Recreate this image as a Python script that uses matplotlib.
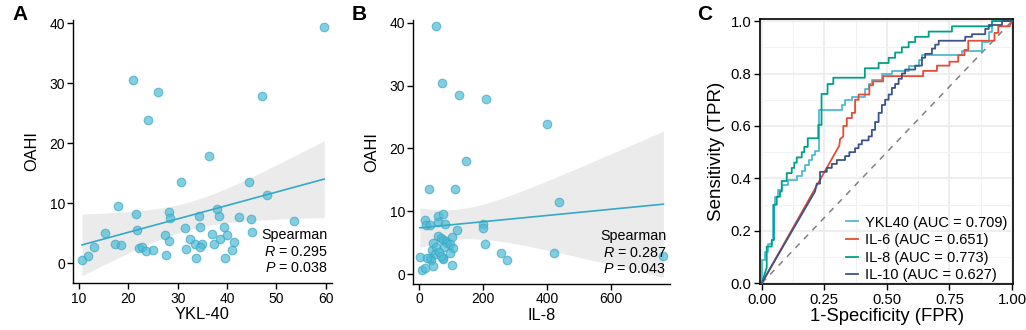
import numpy as np
import matplotlib
matplotlib.use("Agg")
import matplotlib.pyplot as plt

plt.rcParams['font.family'] = ['Liberation Sans', 'DejaVu Sans']
plt.rcParams['mathtext.fontset'] = 'custom'
plt.rcParams['mathtext.it'] = 'Liberation Sans:italic'
plt.rcParams['mathtext.rm'] = 'Liberation Sans'

# panel A: YKL-40 vs OAHI
ykl40 = [59.7, 20.9, 26.1, 47.0, 23.9, 36.4, 30.7, 44.4, 48.1, 18.0,
         21.5, 28.3, 28.5, 38.0, 34.3, 38.3, 42.5, 44.9, 53.6, 21.7,
         15.3, 31.4, 34.5, 39.4, 27.4, 28.3, 37.0, 40.0, 45.1, 17.2,
         18.5, 13.0, 32.4, 38.5, 41.4, 33.5, 34.9, 37.4, 34.6, 31.6,
         22.2, 22.7, 23.5, 25.0, 41.1, 27.6, 33.7, 39.5, 11.9, 10.6]
oahi_a = [39.4, 30.5, 28.5, 27.9, 23.9, 17.9, 13.5, 13.5, 11.4, 9.5,
          8.3, 8.5, 7.6, 9.1, 7.9, 7.9, 7.8, 7.4, 7.0, 5.6,
          5.0, 5.9, 6.0, 6.0, 4.8, 3.7, 4.9, 4.7, 5.3, 3.2,
          3.0, 2.7, 4.1, 4.1, 3.5, 3.3, 3.3, 3.3, 2.8, 2.4,
          2.6, 2.8, 2.1, 2.3, 2.3, 1.4, 0.9, 0.9, 1.2, 0.6]

# panel B: IL-8 vs OAHI
il8 = [53, 72, 124, 209, 400, 147, 30, 114, 439, 20,
       21, 34, 60, 76, 60, 80, 120, 200, 201, 59,
       68, 74, 84, 87, 102, 45, 41, 53, 50, 34,
       38, 77, 64, 74, 76, 96, 105, 98, 104, 3,
       24, 45, 8, 19, 207, 258, 276, 422, 765, 70]
oahi_b = [39.5, 30.5, 28.5, 27.9, 23.9, 18.0, 13.5, 13.6, 11.4, 8.6,
          7.8, 7.8, 9.2, 9.5, 8.3, 8.0, 7.0, 8.0, 7.4, 6.0,
          5.8, 5.4, 5.3, 4.9, 5.9, 5.0, 3.8, 4.3, 3.2, 2.5,
          2.2, 4.3, 3.5, 2.6, 2.4, 4.8, 4.1, 3.3, 1.5, 2.7,
          2.5, 1.2, 0.6, 1.0, 4.8, 3.3, 2.3, 3.3, 2.9, 2.8]

# panel C: ROC curves (FPR, TPR vertices)
ykl40_fpr = [0, 0, 0.013, 0.013, 0.027, 0.027, 0.04, 0.04, 0.047, 0.047, 0.053, 0.053, 0.067, 0.067,
             0.08, 0.08, 0.107, 0.107, 0.14, 0.14, 0.16, 0.16, 0.173, 0.173, 0.187, 0.187, 0.2, 0.2,
             0.213, 0.213, 0.227, 0.227, 0.32, 0.32, 0.333, 0.333, 0.36, 0.36, 0.413, 0.413, 0.427, 0.427,
             0.44, 0.44, 0.48, 0.48, 0.52, 0.52, 0.587, 0.587, 0.627, 0.627, 0.64, 0.64, 0.8, 0.8,
             0.88, 0.88, 0.907, 0.907, 0.92, 0.92, 1.0]
ykl40_tpr = [0, 0.09, 0.09, 0.12, 0.12, 0.15, 0.15, 0.165, 0.165, 0.30, 0.30, 0.33, 0.33, 0.355,
             0.355, 0.375, 0.375, 0.395, 0.395, 0.41, 0.41, 0.43, 0.43, 0.45, 0.45, 0.47, 0.47, 0.49,
             0.49, 0.505, 0.505, 0.66, 0.66, 0.68, 0.68, 0.70, 0.70, 0.71, 0.71, 0.74, 0.74, 0.76,
             0.76, 0.775, 0.775, 0.80, 0.80, 0.81, 0.81, 0.83, 0.83, 0.85, 0.85, 0.87, 0.87, 0.885,
             0.885, 0.92, 0.92, 0.96, 0.96, 1.0, 1.0]

il6_fpr = [0, 0.31, 0.313, 0.326, 0.326, 0.34, 0.34, 0.36, 0.36, 0.373, 0.373, 0.387, 0.387,
           0.43, 0.43, 0.445, 0.445, 0.485, 0.485, 0.645, 0.645, 0.70, 0.70, 0.75, 0.75, 0.785, 0.785,
           0.81, 0.81, 0.825, 0.825, 0.93, 0.93, 0.945, 0.945, 0.99, 1.0]
il6_tpr = [0, 0.525, 0.55, 0.56, 0.60, 0.60, 0.63, 0.63, 0.65, 0.65, 0.70, 0.70, 0.72,
           0.72, 0.755, 0.755, 0.77, 0.77, 0.79, 0.79, 0.81, 0.81, 0.83, 0.83, 0.845, 0.845, 0.87,
           0.87, 0.89, 0.89, 0.925, 0.925, 0.955, 0.955, 0.98, 0.98, 1.0]

il8_fpr = [0, 0.02, 0.02, 0.04, 0.04, 0.049, 0.049, 0.06, 0.06, 0.073, 0.073, 0.08, 0.08, 0.10, 0.10,
           0.12, 0.12, 0.13, 0.13, 0.14, 0.14, 0.16, 0.16, 0.17, 0.17, 0.184, 0.184, 0.226, 0.226,
           0.239, 0.239, 0.263, 0.263, 0.286, 0.286, 0.412, 0.412, 0.467, 0.467, 0.507, 0.507, 0.533,
           0.533, 0.56, 0.56, 0.587, 0.587, 0.613, 0.613, 0.667, 0.667, 0.76, 0.76, 0.92, 0.92, 1.0]
il8_tpr = [0, 0.06, 0.14, 0.14, 0.165, 0.165, 0.30, 0.30, 0.33, 0.33, 0.35, 0.35, 0.39, 0.39, 0.42,
           0.42, 0.44, 0.44, 0.46, 0.46, 0.48, 0.48, 0.50, 0.50, 0.52, 0.52, 0.553, 0.553, 0.604,
           0.604, 0.722, 0.722, 0.76, 0.76, 0.784, 0.784, 0.82, 0.82, 0.84, 0.84, 0.86, 0.86,
           0.88, 0.88, 0.90, 0.90, 0.92, 0.92, 0.94, 0.94, 0.96, 0.96, 0.98, 0.98, 1.0, 1.0]

il10_fpr = [0, 0.213, 0.22, 0.233, 0.233, 0.26, 0.26, 0.28, 0.28, 0.30, 0.30, 0.333, 0.333, 0.35, 0.35,
            0.373, 0.373, 0.387, 0.387, 0.40, 0.40, 0.427, 0.427, 0.44, 0.44, 0.453, 0.453, 0.467, 0.467,
            0.48, 0.48, 0.493, 0.493, 0.507, 0.507, 0.52, 0.52, 0.533, 0.533, 0.547, 0.547, 0.56, 0.56,
            0.573, 0.573, 0.613, 0.613, 0.64, 0.64, 0.653, 0.653, 0.68, 0.68, 0.693, 0.693, 0.707, 0.707,
            0.813, 0.813, 0.84, 0.84, 0.893, 0.893, 0.907, 0.907, 0.96, 0.96, 1.0]
il10_tpr = [0, 0.35, 0.38, 0.38, 0.425, 0.425, 0.44, 0.44, 0.455, 0.455, 0.47, 0.47, 0.485, 0.485, 0.50,
            0.50, 0.515, 0.515, 0.53, 0.53, 0.545, 0.545, 0.56, 0.56, 0.585, 0.585, 0.615, 0.615, 0.65,
            0.65, 0.68, 0.68, 0.70, 0.70, 0.72, 0.72, 0.745, 0.745, 0.76, 0.76, 0.78, 0.78, 0.80,
            0.80, 0.815, 0.815, 0.83, 0.83, 0.86, 0.86, 0.875, 0.875, 0.895, 0.895, 0.91, 0.91, 0.925,
            0.925, 0.94, 0.94, 0.95, 0.95, 0.97, 0.97, 0.985, 0.985, 1.0, 1.0]

roc_labels = ['YKL40 (AUC = 0.709)', 'IL-6 (AUC = 0.651)', 'IL-8 (AUC = 0.773)', 'IL-10 (AUC = 0.627)']
roc_colors = ['#4DBBD5', '#E64B35', '#00A087', '#3C5488']

pt_color = '#4DBBD5'
line_color = '#35A9C7'


def scatter_panel(ax, x, y, xlabel, r_txt, p_txt, xlim, ylim, xticks):
    x = np.asarray(x, float)
    y = np.asarray(y, float)
    n = len(x)
    b, a = np.polyfit(x, y, 1)
    xs = np.linspace(x.min(), x.max(), 100)
    yhat = a + b * xs
    resid = y - (a + b * x)
    s = np.sqrt(np.sum(resid ** 2) / (n - 2))
    sxx = np.sum((x - x.mean()) ** 2)
    se = s * np.sqrt(1 / n + (xs - x.mean()) ** 2 / sxx)
    t = 2.0106
    ax.fill_between(xs, yhat - t * se, yhat + t * se, color='#EBEBEB', lw=0, zorder=1)
    ax.scatter(x, y, s=38, facecolor=pt_color, edgecolor='#3AA7C4', linewidth=0.8, alpha=0.7, zorder=2)
    ax.plot(xs, yhat, color=line_color, lw=1.2, zorder=3)
    ax.set_xlim(*xlim)
    ax.set_ylim(*ylim)
    ax.set_xticks(xticks)
    ax.set_yticks([0, 10, 20, 30, 40])
    ax.set_xlabel(xlabel, fontsize=11.8, labelpad=1)
    ax.set_ylabel('OAHI', fontsize=11.8, labelpad=7)
    for sp in ['top', 'right']:
        ax.spines[sp].set_visible(False)
    for sp in ['left', 'bottom']:
        ax.spines[sp].set_linewidth(1.0)
    ax.tick_params(labelsize=10, length=4, width=1.0, colors='black', pad=2)
    ax.text(0.985, 0.183, 'Spearman', transform=ax.transAxes, ha='right', va='center', fontsize=10.3)
    ax.text(0.985, 0.119, r'$\mathit{R}$ = ' + r_txt, transform=ax.transAxes, ha='right', va='center', fontsize=10.3)
    ax.text(0.985, 0.057, r'$\mathit{P}$ = ' + p_txt, transform=ax.transAxes, ha='right', va='center', fontsize=10.3)


fig = plt.figure(figsize=(10.26, 3.3), dpi=100)

axA = fig.add_axes([0.0714, 0.1415, 0.2518, 0.7994])
scatter_panel(axA, ykl40, oahi_a, 'YKL-40', '0.295', '0.038', (8.84, 61.2), (-3.3, 40.6), [10, 20, 30, 40, 50, 60])

axB = fig.add_axes([0.4028, 0.1394, 0.2502, 0.8015])
scatter_panel(axB, il8, oahi_b, 'IL-8', '0.287', '0.043', (-17.8, 785.6), (-1.59, 40.54), [0, 200, 400, 600])

axC = fig.add_axes([0.7407, 0.1385, 0.2469, 0.8040])
axC.set_xlim(-0.007, 1.005)
axC.set_ylim(-0.004, 1.008)
axC.set_xticks([0, 0.25, 0.5, 0.75, 1.0])
axC.set_xticks([0.125, 0.375, 0.625, 0.875], minor=True)
axC.set_yticks([0, 0.2, 0.4, 0.6, 0.8, 1.0])
axC.set_yticks([0.1, 0.3, 0.5, 0.7, 0.9], minor=True)
axC.set_xticklabels(['0.00', '0.25', '0.50', '0.75', '1.00'])
axC.set_yticklabels(['0.0', '0.2', '0.4', '0.6', '0.8', '1.0'])
axC.grid(True, which='major', color='#EBEBEB', lw=1.2, zorder=0)
axC.grid(True, which='minor', color='#F2F2F2', lw=0.8, zorder=0)
axC.set_axisbelow(True)
axC.tick_params(which='minor', length=0)
axC.tick_params(which='major', labelsize=10.7, length=4, width=1.0, colors='black', pad=2)
for sp in axC.spines.values():
    sp.set_linewidth(1.2)
axC.plot([0, 1], [0, 1], color='#808080', lw=1.1, ls=(0, (4, 4)), zorder=2)
curves = [(ykl40_fpr, ykl40_tpr), (il6_fpr, il6_tpr), (il8_fpr, il8_tpr), (il10_fpr, il10_tpr)]
for (fx, ty), lab, col in zip(curves, roc_labels, roc_colors):
    axC.plot(fx, ty, color=col, lw=1.3, label=lab, zorder=3)
axC.set_xlabel('1-Specificity (FPR)', fontsize=13.3, labelpad=1)
axC.set_ylabel('Sensitivity (TPR)', fontsize=13.5, labelpad=4)
axC.legend(loc='lower right', frameon=False, fontsize=10.5, handlelength=0.8, handletextpad=0.5,
           labelspacing=0.25, borderaxespad=0.0, bbox_to_anchor=(1.0, -0.015))

fig.text(0.0125, 0.955, 'A', fontsize=15, fontweight='bold', va='center')
fig.text(0.343, 0.955, 'B', fontsize=15, fontweight='bold', va='center')
fig.text(0.679, 0.955, 'C', fontsize=15, fontweight='bold', va='center')

fig.savefig('out.png', dpi=100)
